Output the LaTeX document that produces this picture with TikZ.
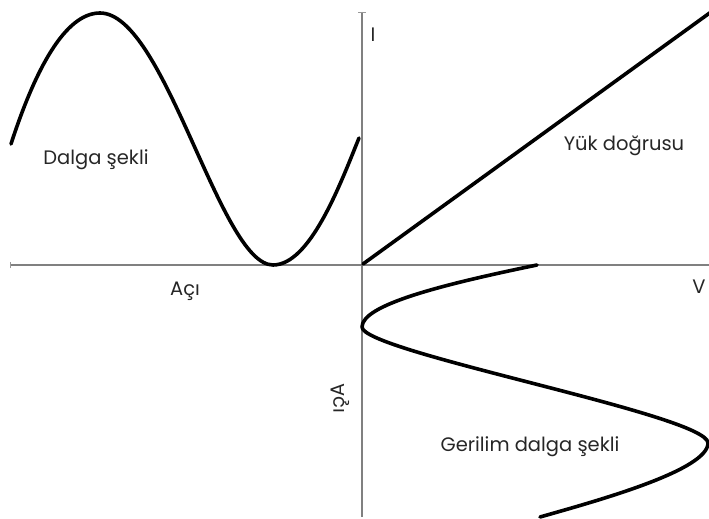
\documentclass[tikz,border=0pt]{standalone}
\usepackage{fontspec}
\setmainfont{Poppins}
\begin{document}
\begin{tikzpicture}[x=1pt,y=-1pt,
  axis/.style={draw=black!50, line width=1.1pt},
  tick/.style={draw=black!40, line width=0.8pt},
  wave/.style={draw=black, line width=3.6pt, line cap=round, line join=round},
  lbl/.style={font=\fontsize{19.5}{22}\selectfont, text=black!85, inner sep=0pt}]
\useasboundingbox (0,0) rectangle (709,519);
% axes
\coordinate (O) at (362,265);
\coordinate (xl) at (10,265);
\coordinate (xr) at (709,265);
\coordinate (yt) at (362,12);
\coordinate (yb) at (362,517);
\draw[axis] (xl) -- (xr);
\draw[axis] (yt) -- (yb);
\draw[tick] ([yshift=-3pt]xl) -- ([yshift=3pt]xl);
\draw[tick] ([xshift=-4pt]yt) -- ([xshift=4pt]yt);
% current waveform
\coordinate (c0) at (11,144);
\coordinate (c1) at (100,13);
\coordinate (c2) at (273,265);
\coordinate (c3) at (359,138);
\draw[wave] (c0) .. controls (35,70) and (65,13) .. (c1)
  .. controls (165,13) and (220,265) .. (c2)
  .. controls (310,265) and (340,185) .. (c3);
% load line
\coordinate (L0) at (363,264);
\coordinate (L1) at (711,12);
\draw[wave] (L0) -- (L1);
% voltage waveform
\coordinate (v0) at (537,265);
\coordinate (v1) at (362,327);
\coordinate (v2) at (708,443);
\coordinate (v3) at (540,517);
\draw[wave] (v0) .. controls (440,285) and (362,305) .. (v1)
  .. controls (362,352) and (708,415) .. (v2)
  .. controls (708,470) and (600,500) .. (v3);
% labels
\node[lbl] (ilbl) at (373,35) {I};
\node[lbl] (vlbl) at (699,287) {V};
\node[lbl] (dalga) at (96,160) {Dalga şekli};
\node[lbl] (yuk) at (624,146) {Yük doğrusu};
\node[lbl] (gerilim) at (530,447) {Gerilim dalga şekli};
\node[lbl] (aci1) at (185,291) {Açı};
\node[lbl, rotate=90, xscale=-1] (aci2) at (340,398) {Açı};
\end{tikzpicture}
\end{document}
